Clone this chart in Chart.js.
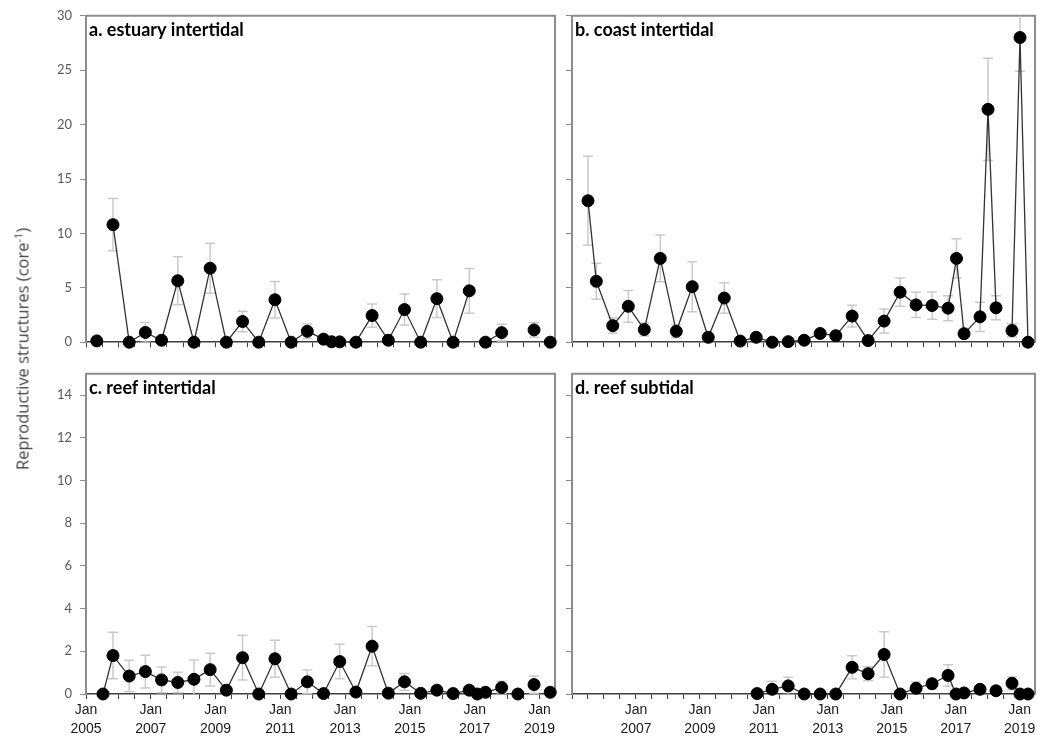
<!DOCTYPE html>
<html>
<head>
<meta charset="utf-8">
<script src="https://cdn.jsdelivr.net/npm/chart.js@4.4.1/dist/chart.umd.min.js"></script>
<style>
  body { margin: 0; background: #fff; }
  #wrap { position: relative; width: 1042px; height: 738px; overflow: hidden; }
  canvas { position: absolute; }
  #ylabel {
    position: absolute; left: 22px; top: 349px;
    transform: translate(-50%, -50%) rotate(-90deg);
    white-space: nowrap; font-family: "Open Sans", sans-serif; font-size: 16.5px; font-weight: 400; color: #404040;
  }
  #ylabel sup { font-size: 11px; line-height: 0; }
</style>
</head>
<body>
<div id="wrap">
  <canvas id="chartA" width="562" height="358" style="left:0;top:0"></canvas>
  <canvas id="chartB" width="480" height="358" style="left:562px;top:0"></canvas>
  <canvas id="chartC" width="562" height="380" style="left:0;top:358px"></canvas>
  <canvas id="chartD" width="480" height="380" style="left:562px;top:358px"></canvas>
  <div id="ylabel">Reproductive structures (core<sup>-1</sup>)</div>
</div>
<script>
// sampling dates (null value = missing sample, breaks the line), means and error (+/-)
const datesA = ['2005-05', '2005-08', '2005-11', '2006-05', '2006-11', '2007-05', '2007-11', '2008-05', '2008-11',
  '2009-05', '2009-11', '2010-05', '2010-11', '2011-05', '2011-11', '2012-05', '2012-08', '2012-11', '2013-05',
  '2013-11', '2014-05', '2014-11', '2015-05', '2015-11', '2016-05', '2016-11', '2017-02', '2017-05', '2017-11',
  '2018-05', '2018-11', '2019-02', '2019-05'];
const valuesA = [0.12, null, 10.8, 0, 0.9, 0.18, 5.65, 0, 6.8,
  0, 1.9, 0, 3.9, 0, 1.0, 0.28, 0.04, 0.03, 0,
  2.45, 0.18, 3.0, 0, 4.0, 0, 4.72, null, 0, 0.88,
  null, 1.13, null, 0];
const errorsA = [0, 0, 2.4, 0, 0.9, 0.1, 2.2, 0, 2.3,
  0, 0.95, 0, 1.67, 0, 0.67, 0.15, 0, 0, 0,
  1.07, 0.12, 1.42, 0, 1.73, 0, 2.05, 0, 0, 0.77,
  0, 0.67, 0, 0];

const datesB = ['2005-07-01', '2005-10-05', '2006-04-10', '2006-10-05', '2007-04-05', '2007-10-05', '2008-04-05',
  '2008-10-05', '2009-04-05', '2009-10-05', '2010-04-05', '2010-10-05', '2011-04-05', '2011-10-05', '2012-04-05',
  '2012-10-05', '2013-04-01', '2013-10-05', '2014-04-05', '2014-10-05', '2015-04-05', '2015-10-05', '2016-04-05',
  '2016-10-05', '2017-01-10', '2017-04-05', '2017-10-05', '2018-01-05', '2018-04-05', '2018-07-05', '2018-10-05',
  '2019-01-05', '2019-04-05'];
const valuesB = [13.0, 5.6, 1.52, 3.3, 1.16, 7.7, 1.0,
  5.1, 0.45, 4.06, 0.1, 0.45, 0, 0.05, 0.18,
  0.8, 0.6, 2.4, 0.15, 1.94, 4.6, 3.43, 3.37,
  3.13, 7.7, 0.78, 2.33, 21.4, 3.16, null, 1.07,
  28.0, 0];
const errorsB = [4.1, 1.65, 0.7, 1.46, 0.6, 2.15, 0.6,
  2.3, 0.3, 1.4, 0.05, 0.3, 0, 0, 0.1,
  0.35, 0.4, 1.0, 0.1, 1.1, 1.3, 1.15, 1.25,
  1.15, 1.8, 0.4, 1.35, 4.7, 1.1, 0, 0.6,
  3.1, 0];

const datesC = ['2005-07-10', '2005-11', '2006-05', '2006-11', '2007-05', '2007-11', '2008-05', '2008-11',
  '2009-05', '2009-11', '2010-05', '2010-11', '2011-05', '2011-11', '2012-05', '2012-11', '2013-05', '2013-11',
  '2014-05', '2014-11', '2015-05', '2015-11', '2016-05', '2016-11', '2017-02', '2017-05', '2017-11', '2018-02',
  '2018-05', '2018-08', '2018-11', '2019-02', '2019-05'];
const valuesC = [0, 1.8, 0.84, 1.05, 0.66, 0.54, 0.69, 1.14,
  0.18, 1.7, 0, 1.65, 0, 0.57, 0.02, 1.52, 0.09, 2.24,
  0.04, 0.57, 0.03, 0.18, 0.02, 0.18, 0, 0.08, 0.3, null,
  0, null, 0.44, null, 0.08];
const errorsC = [0, 1.09, 0.74, 0.77, 0.6, 0.48, 0.9, 0.77,
  0.1, 1.05, 0, 0.87, 0, 0.55, 0, 0.81, 0, 0.92,
  0, 0.39, 0, 0.2, 0, 0.1, 0, 0, 0.3, 0,
  0, 0, 0.4, 0, 0];

const datesD = ['2010-10-15', '2011-04-05', '2011-10-05', '2012-04-05', '2012-10-05', '2013-04-01', '2013-10-05',
  '2014-04-05', '2014-10-05', '2015-04-05', '2015-10-05', '2016-04-05', '2016-10-05', '2017-01-05', '2017-04-05',
  '2017-10-05', '2018-01-05', '2018-04-05', '2018-07-05', '2018-10-05', '2019-01-05', '2019-04-05'];
const valuesD = [0.02, 0.22, 0.38, 0, 0, 0, 1.25,
  0.95, 1.85, 0, 0.27, 0.48, 0.87, 0, 0.05,
  0.22, null, 0.15, null, 0.5, 0, 0];
const errorsD = [0, 0.38, 0.4, 0, 0, 0, 0.54,
  0.33, 1.07, 0, 0.3, 0.25, 0.5, 0, 0,
  0.1, 0, 0.08, 0, 0.3, 0, 0];

const labelYears = [2005, 2007, 2009, 2011, 2013, 2015, 2017, 2019];
const xMin = 2005, xMax = 2019.48;

// "YYYY-MM(-DD)" -> decimal year
function toYear(d) {
  const [y, m, dd] = d.split('-').map(Number);
  return y + (m - 1) / 12 + ((dd || 1) - 1) / 365;
}

const halfYearTicks = [];
for (let v = xMin; v <= 2019; v += 0.5) halfYearTicks.push(v);

function makeChart(id, p) {
  const points = p.dates.map((d, i) => ({ x: toYear(d), y: p.values[i] }));

  const extras = {
    id: 'extras',
    beforeDatasetsDraw(chart) {
      const { ctx, chartArea: a, scales } = chart;
      ctx.save();
      // top and right side of the plot frame
      ctx.strokeStyle = '#8c8c8c';
      ctx.lineWidth = 2;
      ctx.beginPath();
      ctx.moveTo(a.left, a.top);
      ctx.lineTo(a.right, a.top);
      ctx.lineTo(a.right, a.bottom);
      ctx.stroke();
      // error bars, clipped to the plot
      ctx.beginPath();
      ctx.rect(a.left, a.top, a.right - a.left, a.bottom - a.top);
      ctx.clip();
      ctx.strokeStyle = '#cacaca';
      ctx.lineWidth = 1.5;
      points.forEach((pt, i) => {
        const e = p.errors[i];
        if (pt.y === null || !e) return;
        const x = scales.x.getPixelForValue(pt.x);
        const y1 = scales.y.getPixelForValue(pt.y + e);
        const y2 = scales.y.getPixelForValue(pt.y - e);
        ctx.beginPath();
        ctx.moveTo(x, y1); ctx.lineTo(x, y2);
        ctx.moveTo(x - 5, y1); ctx.lineTo(x + 5, y1);
        ctx.moveTo(x - 5, y2); ctx.lineTo(x + 5, y2);
        ctx.stroke();
      });
      ctx.restore();
    },
    afterDraw(chart) {
      const { ctx, chartArea: a } = chart;
      ctx.save();
      ctx.fillStyle = '#000';
      ctx.font = 'bold 18px Lato, sans-serif';
      ctx.textBaseline = 'middle';
      ctx.fillText(p.title, a.left + 3, a.top + 14);
      ctx.restore();
    }
  };

  return new Chart(document.getElementById(id), {
    type: 'line',
    data: {
      datasets: [{
        data: points,
        borderColor: '#333',
        borderWidth: 1.3,
        pointRadius: 6,
        pointBackgroundColor: '#000',
        pointBorderColor: '#000',
        pointBorderWidth: 1,
        spanGaps: false,
        tension: 0,
        clip: false
      }]
    },
    options: {
      responsive: false,
      animation: false,
      layout: { padding: { top: p.padTop, right: p.padRight, left: 0, bottom: 0 } },
      plugins: { legend: { display: false }, tooltip: { enabled: false } },
      scales: {
        x: {
          type: 'linear',
          min: xMin,
          max: xMax,
          afterBuildTicks: s => { s.ticks = halfYearTicks.map(v => ({ value: v })); },
          afterFit: s => { s.height = p.xHeight; },
          grid: { drawOnChartArea: false, tickLength: 5, color: '#404040' },
          border: { color: '#404040', width: 1.5 },
          ticks: {
            autoSkip: false,
            maxRotation: 0,
            padding: 1,
            color: '#1a1a1a',
            font: { family: 'Liberation Sans', size: 14, lineHeight: 1.4 },
            callback: v => (p.xLabels.some(y => Math.abs(y - v) < 1e-6) ? ['Jan', String(v)] : '')
          }
        },
        y: {
          min: 0,
          max: p.yMax,
          afterFit: s => { s.width = p.yWidth; },
          grid: { drawOnChartArea: false, tickLength: 6, color: '#8c8c8c' },
          border: { color: '#8c8c8c', width: 2 },
          ticks: {
            stepSize: p.yStep,
            includeBounds: false,
            padding: 8,
            color: '#595959',
            font: { family: 'Lato', size: 13 },
            callback: v => (p.yLabels ? v : '')
          }
        }
      }
    },
    plugins: [extras]
  });
}

makeChart('chartA', { title: 'a. estuary intertidal', dates: datesA, values: valuesA, errors: errorsA,
  yMax: 30, yStep: 5, yLabels: true, xLabels: [], yWidth: 86, xHeight: 9, padTop: 14, padRight: 5 });
makeChart('chartB', { title: 'b. coast intertidal', dates: datesB, values: valuesB, errors: errorsB,
  yMax: 30, yStep: 5, yLabels: false, xLabels: [], yWidth: 10, xHeight: 9, padTop: 14, padRight: 2 });
makeChart('chartC', { title: 'c. reef intertidal', dates: datesC, values: valuesC, errors: errorsC,
  yMax: 15, yStep: 2, yLabels: true, xLabels: labelYears, yWidth: 86, xHeight: 44, padTop: 2, padRight: 5 });
makeChart('chartD', { title: 'd. reef subtidal', dates: datesD, values: valuesD, errors: errorsD,
  yMax: 15, yStep: 2, yLabels: false, xLabels: labelYears.slice(1), yWidth: 10, xHeight: 44, padTop: 2, padRight: 2 });
</script>
</body>
</html>
